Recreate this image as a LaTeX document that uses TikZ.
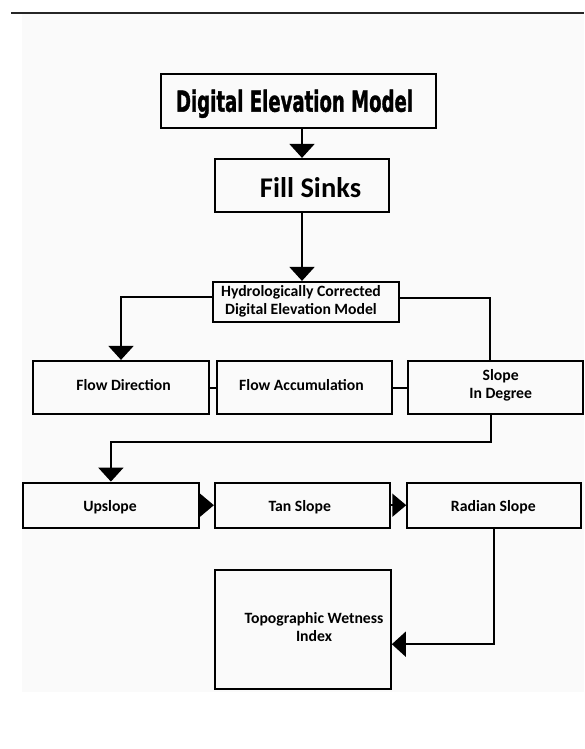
\documentclass[tikz,border=0pt]{standalone}
\usepackage{fontspec}
\setmainfont{Carlito}
\newfontfamily\demfont[BoldFeatures={FakeBold=1.5}]{DejaVu Sans}
\usetikzlibrary{arrows.meta}
\tikzset{
  box/.style={draw=black, line width=2.2pt, rectangle, inner sep=0pt},
  conn/.style={draw=black, line width=2pt},
  tri/.style={-{Triangle[width=25pt,length=14pt]}},
  lbl/.style={font=\fontsize{15.7}{18}\selectfont\bfseries, inner sep=0pt, anchor=base, align=center}
}
\begin{document}
\begin{tikzpicture}[x=1pt,y=-1pt]
\useasboundingbox (0,0) rectangle (584,749);
\fill[black!2] (22,14) rectangle (584,692);
\draw[line width=2pt, black!85] (11,13.5) -- (584,13.5);
% boxes
\node[box, minimum width=275pt, minimum height=54pt] (dem) at (298.5,101) {};
\node[box, minimum width=174pt, minimum height=53pt] (fs) at (302,185.5) {};
\node[box, minimum width=186pt, minimum height=40pt] (hyd) at (306,302) {};
\node[box, minimum width=176pt, minimum height=53pt] (fd) at (121,387.5) {};
\node[box, minimum width=174.7pt, minimum height=53pt] (fa) at (304.4,387.5) {};
\node[box, minimum width=175pt, minimum height=53pt] (sl) at (495.2,387.5) {};
\node[box, minimum width=176.3pt, minimum height=45pt] (up) at (110.9,505.2) {};
\node[box, minimum width=175pt, minimum height=45pt] (tan) at (302.5,505.2) {};
\node[box, minimum width=173.7pt, minimum height=45pt] (rad) at (494.2,505.2) {};
\node[box, minimum width=175.7pt, minimum height=119.3pt] (twi) at (302.9,629.7) {};
% texts
\node[inner sep=0pt, anchor=base] (demtxt) at (294.5,111.7) {\resizebox{237pt}{22pt}{\demfont\bfseries Digital Elevation Model}};
\node[inner sep=0pt, anchor=base, font=\fontsize{28.5}{32}\selectfont\bfseries] (fstxt) at (310.5,197.7) {Fill Sinks};
\node[lbl] (hydtxt) at (301,314.3) {Hydrologically Corrected\\Digital Elevation Model};
\node[lbl] (fdtxt) at (123.5,390.7) {Flow Direction};
\node[lbl] (fatxt) at (301.5,390.7) {Flow Accumulation};
\node[lbl] (sltxt) at (500.7,398) {Slope\\In Degree};
\node[lbl] (uptxt) at (110,511.7) {Upslope};
\node[lbl] (tantxt) at (299.7,511.7) {Tan Slope};
\node[lbl] (radtxt) at (493.3,511.7) {Radian Slope};
\node[lbl] (twitxt) at (314,641) {Topographic Wetness\\Index};
% connectors
\draw[conn, tri] (fs.north |- dem.south) -- (fs.north);
\draw[conn, tri] (fs.south) -- (fs.south |- hyd.north);
\draw[conn, tri] ([yshift=5pt]hyd.west) -| (fd.north);
\draw[conn] ([yshift=4pt]hyd.east) -| ([xshift=-5pt]sl.north);
\draw[conn] (fd.east) -- (fa.west);
\draw[conn] (fa.east) -- (sl.west);
\draw[conn, tri] ([xshift=-4.5pt]sl.south) -- ++(0,27) -| (up.north);
\draw[conn, -{Triangle[width=23pt,length=14pt]}] (up.east) -- (tan.west);
\draw[conn, -{Triangle[width=23pt,length=14pt]}] (tan.east) -- (rad.west);
\draw[conn, tri] (rad.south) |- ([yshift=-14.5pt]twi.east);
\end{tikzpicture}
\end{document}
